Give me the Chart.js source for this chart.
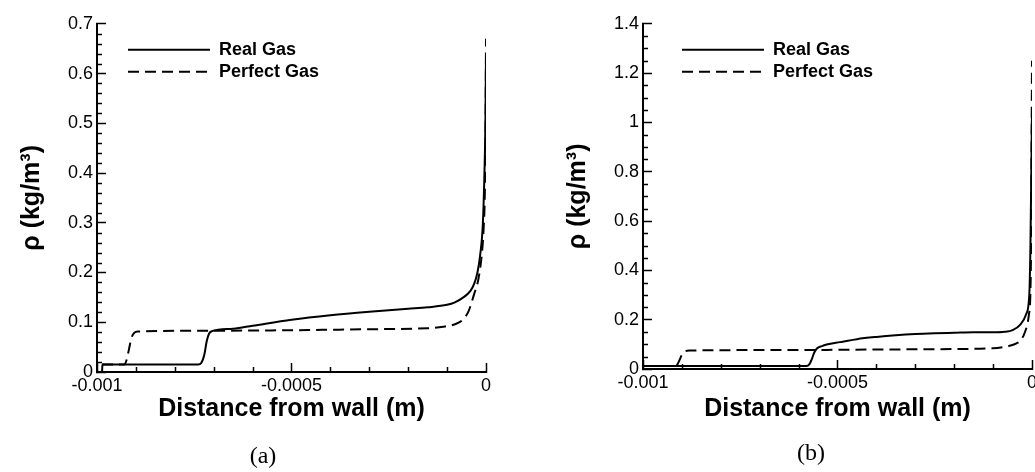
<!DOCTYPE html>
<html>
<head>
  <script src="https://cdn.jsdelivr.net/npm/chart.js"></script>
  <style>
    body {
      margin: 0px;
      background: #fff;
      overflow: hidden;
      width: 1035px;
      height: 472px;
      position: relative;
    }
    canvas {
      position: absolute;
      top: 0px;
    }
    #chartA { left: 0px; }
    #chartB { left: 546px; }
  </style>
</head>
<body>
  <canvas id="chartA" width="520" height="472"></canvas>
  <canvas id="chartB" width="520" height="472"></canvas>

  <script>
    // Density profiles near the wall
    var xTickValues = [-0.001, -0.0005, 0];
    var xTickLabels = ['-0.001', '-0.0005', '0'];

    var yTickValuesA = [0, 0.1, 0.2, 0.3, 0.4, 0.5, 0.6, 0.7];
    var yTickLabelsA = ['0', '0.1', '0.2', '0.3', '0.4', '0.5', '0.6', '0.7'];
    var yTickValuesB = [0, 0.2, 0.4, 0.6, 0.8, 1, 1.2, 1.4];
    var yTickLabelsB = ['0', '0.2', '0.4', '0.6', '0.8', '1', '1.2', '1.4'];

    // panel (a)
    var realXA = [-0.000987, -0.000986, -0.00074, -0.000732, -0.000724, -0.000718, -0.000712, -0.000705, -0.00065, -0.0006, -0.0005, -0.0004, -0.0003, -0.0002, -0.00015, -0.0001, -0.00008, -0.00006, -0.00004, -0.00003, -0.000022, -0.000015, -0.000008, -0.000004, -0.0000015, 0];
    var realYA = [0, 0.015, 0.015, 0.018, 0.035, 0.062, 0.077, 0.082, 0.087, 0.093, 0.105, 0.114, 0.121, 0.127, 0.130, 0.135, 0.140, 0.149, 0.163, 0.178, 0.2, 0.235, 0.3, 0.4, 0.5, 0.64];
    var perfXA = [-0.000987, -0.00093, -0.000924, -0.000918, -0.000912, -0.000905, -0.000895, -0.0007, -0.0005, -0.0003, -0.00015, -0.00011, -0.00008, -0.00006, -0.000045, -0.00003, -0.00002, -0.000011, -0.000006, -0.000003, -0.000001, 0];
    var perfYA = [0.015, 0.015, 0.024, 0.045, 0.067, 0.078, 0.0815, 0.083, 0.084, 0.086, 0.088, 0.091, 0.096, 0.105, 0.122, 0.158, 0.185, 0.235, 0.29, 0.36, 0.5, 0.67];

    // panel (b)
    var realXB = [-0.001, -0.00058, -0.000572, -0.000566, -0.00056, -0.000553, -0.00054, -0.000528, -0.000494, -0.00045, -0.0004, -0.00035, -0.0003, -0.00025, -0.0002, -0.00015, -0.0001, -0.00007, -0.00005, -0.00003, -0.000015, -0.000007, -0.000004, 0];
    var realYB = [0.012, 0.012, 0.02, 0.04, 0.066, 0.083, 0.093, 0.099, 0.109, 0.121, 0.13, 0.137, 0.142, 0.145, 0.147, 0.149, 0.149, 0.151, 0.158, 0.18, 0.222, 0.3, 0.5, 1.045];
    var perfXB = [-0.001, -0.000915, -0.000911, -0.000905, -0.0009, -0.000893, -0.000881, -0.0006, -0.0004, -0.0002, -0.0001, -0.00008, -0.000055, -0.00004, -0.00003, -0.000018, -0.000008, -0.000003, 0];
    var perfYB = [0.012, 0.012, 0.02, 0.04, 0.058, 0.07, 0.075, 0.077, 0.079, 0.081, 0.084, 0.087, 0.095, 0.104, 0.115, 0.15, 0.22, 0.4, 1.25];

    function toPoints(xs, ys) {
      return xs.map(function(x, i) { return { x: x, y: ys[i] }; });
    }

    var sans = "'Liberation Sans', Arial, sans-serif";
    var tickFont = { family: sans, size: 18 };
    var axisTitleFont = { family: sans, size: 25, weight: 'bold' };

    // small inward ticks between the labelled ones
    var minorTicks = {
      id: 'minorTicks',
      afterDraw: function(chart, args, opts) {
        var ctx = chart.ctx, ca = chart.chartArea;
        var xs = chart.scales.x, ys = chart.scales.y;
        ctx.save();
        ctx.strokeStyle = '#000';
        ctx.lineWidth = 1.5;
        ctx.beginPath();
        var n = Math.round((xs.max - xs.min) / opts.xStep);
        for (var i = 1; i < n; i++) {
          if (i % opts.xEvery === 0) continue;
          var px = Math.round(xs.getPixelForValue(xs.min + i * opts.xStep)) + 0.5;
          ctx.moveTo(px, ca.bottom);
          ctx.lineTo(px, ca.bottom - opts.len);
        }
        n = Math.round((ys.max - ys.min) / opts.yStep);
        for (var j = 1; j < n; j++) {
          if (j % opts.yEvery === 0) continue;
          var py = Math.round(ys.getPixelForValue(ys.min + j * opts.yStep)) + 0.5;
          ctx.moveTo(ca.left, py);
          ctx.lineTo(ca.left + opts.len, py);
        }
        ctx.stroke();
        ctx.restore();
      }
    };

    // move the legend to the upper left inside the plot
    var legendPlace = {
      id: 'legendPlace',
      afterLayout: function(chart, args, opts) {
        var lg = chart.legend, ca = chart.chartArea;
        lg.left = ca.left + opts.dx;
        lg.top = ca.top + opts.dy;
        lg.right = lg.left + 300;
        lg.bottom = lg.top + 80;
      }
    };

    // pad.left moves the caption; the y axis box shrinks by the same amount
    function makeChart(id, real, perfect, yTicks, yLabels, yMax, yMinor, yEvery, caption, pad, legendPos) {
      var ctx = document.getElementById(id).getContext('2d');
      return new Chart(ctx, {
        type: 'line',
        data: {
          datasets: [{
            label: 'Real Gas',
            data: real,
            borderColor: '#000',
            borderWidth: 2,
            pointRadius: 0,
            cubicInterpolationMode: 'monotone',
            fill: false
          }, {
            label: 'Perfect Gas',
            data: perfect,
            borderColor: '#000',
            borderWidth: 2,
            borderDash: [11, 6],
            pointRadius: 0,
            cubicInterpolationMode: 'monotone',
            fill: false
          }]
        },
        options: {
          responsive: false,
          animation: false,
          events: [],
          layout: { padding: { left: pad.left, right: 34, top: pad.top, bottom: pad.bottom } },
          scales: {
            x: {
              type: 'linear',
              min: -0.001,
              max: 0,
              afterBuildTicks: function(s) { s.ticks = xTickValues.map(function(v) { return { value: v }; }); },
              afterFit: function(s) { s.height = 62; },
              ticks: {
                autoSkip: false,
                maxRotation: 0,
                padding: 12,
                color: '#000',
                font: tickFont,
                callback: function(v, i) { return xTickLabels[i]; }
              },
              grid: { display: true, drawOnChartArea: false, drawTicks: true, tickLength: -9, tickColor: '#000', tickWidth: 1.5 },
              border: { display: true, color: '#000', width: 2 },
              title: { display: true, text: 'Distance from wall (m)', color: '#000', font: axisTitleFont, padding: { top: 0, bottom: pad.xTitle } }
            },
            y: {
              type: 'linear',
              min: 0,
              max: yMax,
              afterBuildTicks: function(s) { s.ticks = yTicks.map(function(v) { return { value: v }; }); },
              afterFit: function(s) { s.width = 97 - pad.left; },
              ticks: {
                autoSkip: false,
                padding: 13,
                color: '#000',
                font: tickFont,
                callback: function(v, i) { return yLabels[i]; }
              },
              grid: { display: true, drawOnChartArea: false, drawTicks: true, tickLength: -9, tickColor: '#000', tickWidth: 1.5 },
              border: { display: true, color: '#000', width: 2 },
              title: { display: true, text: 'ρ (kg/m³)', color: '#000', font: axisTitleFont, padding: { top: 17 - pad.left, bottom: 0 } }
            }
          },
          plugins: {
            legend: {
              display: true,
              position: 'chartArea',
              align: 'start',
              labels: {
                usePointStyle: true,
                pointStyle: 'line',
                pointStyleWidth: 82,
                padding: 4,
                color: '#000',
                font: { family: sans, size: 18, weight: 'bold' },
                generateLabels: function(chart) {
                  var items = Chart.defaults.plugins.legend.labels.generateLabels(chart);
                  items.forEach(function(it) {
                    var ds = chart.data.datasets[it.datasetIndex];
                    it.lineDash = ds.borderDash || [];
                    it.lineWidth = ds.borderWidth;
                    it.strokeStyle = ds.borderColor;
                  });
                  return items;
                }
              }
            },
            title: {
              display: true,
              position: 'bottom',
              text: caption,
              color: '#000',
              font: { family: "'Liberation Serif', serif", size: 24, weight: 'normal' },
              padding: { top: 8, bottom: 0 }
            },
            tooltip: { enabled: false },
            minorTicks: { xStep: 0.0001, xEvery: 5, yStep: yMinor, yEvery: yEvery, len: 5 },
            legendPlace: legendPos
          }
        },
        plugins: [minorTicks, legendPlace]
      });
    }

    makeChart('chartA', toPoints(realXA, realYA), toPoints(perfXA, perfYA),
      yTickValuesA, yTickLabelsA, 0.7, 0.02, 5, '(a)',
      { top: 17, bottom: 1.2, left: 40, xTitle: 10 }, { dx: 27, dy: 13 });

    makeChart('chartB', toPoints(realXB, realYB), toPoints(perfXB, perfYB),
      yTickValuesB, yTickLabelsB, 1.4, 0.05, 4, '(b)',
      { top: 16, bottom: 4.2, left: 44, xTitle: 7 }, { dx: 35, dy: 13 });
  </script>
</body>
</html>
